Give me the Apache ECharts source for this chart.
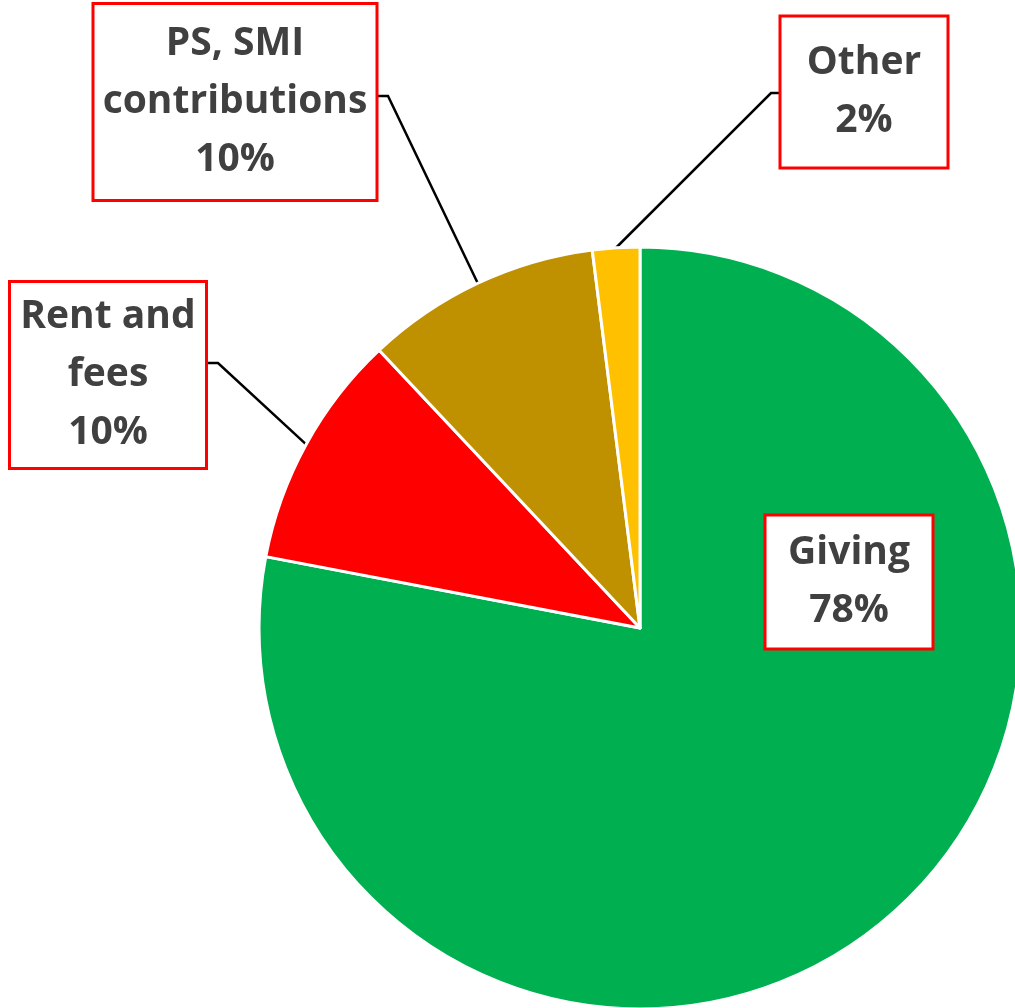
<!DOCTYPE html>
<html lang="en">
<head>
    <meta charset="UTF-8">
    <title>Income</title>
    <script type="text/javascript" src="https://cdn.jsdelivr.net/npm/echarts@6/dist/echarts.min.js"></script>
    <style>
        html, body { margin: 0; padding: 0; background: #fff; }
        #container { width: 1015px; height: 1008px; }
    </style>
</head>
<body>
<div id="container"></div>
<script type="text/javascript">
    // slices, clockwise from 12 o'clock
    var names = ['Giving', 'Rent and\nfees', 'PS, SMI\ncontributions', 'Other'];
    var values = [78, 10, 10, 2];
    var colors = ['#00B050', '#FF0000', '#BF9000', '#FFC000'];

    // label boxes: centre, padding, content width, and leader line bend
    var labelSpots = [
        { x: 849, y: 582, pad: [13, 0, 2, 0], w: 165 },
        { x: 108, y: 375, pad: [10, 0, 0, 0], w: 194, bend: [218, 363], end: [207, 363] },
        { x: 235, y: 102, pad: [16, 0, 4, 0], w: 281, bend: [388, 96], end: [377, 96] },
        { x: 864, y: 92, pad: [25, 0, 8, 0], w: 165, bend: [771, 93], end: [780, 93] }
    ];

    var dataList = [];
    for (var i = 0; i < names.length; i++) {
        var s = labelSpots[i];
        dataList.push({
            name: names[i],
            value: values[i],
            itemStyle: { color: colors[i] },
            label: { padding: s.pad, width: s.w },
            labelLine: { show: i !== 0 }
        });
    }

    var dom = document.getElementById('container');
    var myChart = echarts.init(dom, null, { renderer: 'canvas' });

    var option = {
        animation: false,
        series: [
            {
                type: 'pie',
                center: [640, 628],
                radius: 381,
                startAngle: 90,
                clockwise: true,
                avoidLabelOverlap: false,
                data: dataList,
                itemStyle: { borderColor: '#fff', borderWidth: 3 },
                label: {
                    show: true,
                    position: 'outside',
                    formatter: '{b}\n{d}%',
                    fontFamily: 'Open Sans',
                    fontWeight: 'bold',
                    fontSize: 39,
                    lineHeight: 58,
                    color: '#404040',
                    align: 'center',
                    backgroundColor: '#fff',
                    borderColor: '#FF0000',
                    borderWidth: 3
                },
                labelLine: {
                    show: true,
                    lineStyle: { color: '#000', width: 2.5 }
                },
                labelLayout: function (params) {
                    var s = labelSpots[params.dataIndex];
                    var res = { x: s.x, y: s.y, align: 'center', verticalAlign: 'middle' };
                    if (s.bend && params.labelLinePoints) {
                        res.labelLinePoints = [params.labelLinePoints[0], s.bend, s.end];
                    }
                    return res;
                }
            }
        ]
    };

    myChart.setOption(option);
    window.addEventListener('resize', myChart.resize);
</script>
</body>
</html>
